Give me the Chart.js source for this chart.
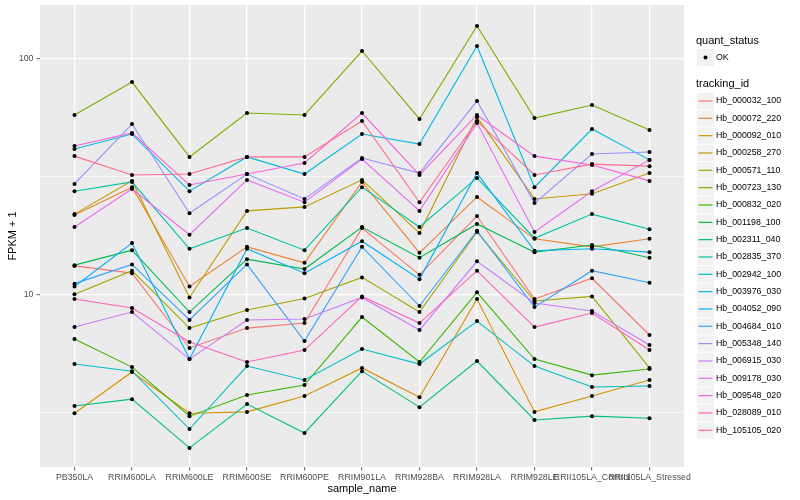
<!DOCTYPE html>
<html>
<head>
<meta charset="utf-8">
<title>FPKM by sample</title>
<script src="https://cdn.jsdelivr.net/npm/chart.js@4/dist/chart.umd.min.js"></script>
<style>
  html, body { margin: 0; padding: 0; background: #ffffff; }
  #wrap { width: 800px; height: 500px; }
</style>
</head>
<body>
<div id="wrap"><canvas id="fpkmChart" width="800" height="500"></canvas></div>
<script>
// Samples along the x axis
const samples = ['PB350LA', 'RRIM600LA', 'RRIM600LE', 'RRIM600SE', 'RRIM600PE', 'RRIM901LA',
    'RRIM928BA', 'RRIM928LA', 'RRIM928LE', 'RRII105LA_Control', 'RRII105LA_Stressed'];

// Tracking ids, in legend order
const trackingIds = ['Hb_000032_100', 'Hb_000072_220', 'Hb_000092_010', 'Hb_000258_270', 'Hb_000571_110',
    'Hb_000723_130', 'Hb_000832_020', 'Hb_001198_100', 'Hb_002311_040', 'Hb_002835_370',
    'Hb_002942_100', 'Hb_003976_030', 'Hb_004052_090', 'Hb_004684_010', 'Hb_005348_140',
    'Hb_006915_030', 'Hb_009178_030', 'Hb_009548_020', 'Hb_028089_010', 'Hb_105105_020'];

// ggplot default hue palette, 20 levels
const colors = ['#F8766D', '#EA8331', '#D89000', '#C09B00', '#A3A500', '#7CAE00', '#39B600', '#00BB4E',
    '#00BF7D', '#00C1A3', '#00BFC4', '#00BAE0', '#00B0F6', '#35A2FF', '#9590FF', '#C77CFF',
    '#E76BF3', '#FA62DB', '#FF62BC', '#FF6C91'];

// FPKM + 1, one value per sample
const hb000032 = [13.2, 12.3, 5.92, 7.19, 7.55, 19.1, 12.1, 21.5, 9.55, 11.7, 6.72];
const hb000072 = [21.7, 28.5, 10.8, 15.9, 13.6, 30.0, 15.0, 25.9, 17.2, 15.9, 17.2];
const hb000092 = [3.13, 4.68, 3.13, 3.17, 3.70, 4.87, 3.66, 9.55, 3.17, 3.70, 4.33];
const hb000258 = [21.9, 30.3, 9.7, 22.6, 23.5, 30.6, 18.2, 56.5, 25.4, 26.7, 32.7];
const hb000571 = [10.0, 12.6, 7.19, 8.58, 9.6, 11.8, 8.41, 18.4, 9.37, 9.8, 4.87];
const hb000723 = [57.7, 79.6, 38.3, 58.8, 57.7, 107.8, 55.5, 137.7, 56.0, 63.6, 49.8];
const hb000832 = [6.46, 4.91, 3.04, 3.74, 4.12, 8.01, 5.16, 10.2, 5.31, 4.54, 4.82];
const hb001198 = [13.3, 15.4, 8.41, 14.1, 12.8, 19.3, 14.3, 19.9, 15.1, 16.2, 14.3];
const hb002311 = [3.36, 3.59, 2.23, 3.42, 2.58, 4.72, 3.32, 5.21, 2.93, 3.04, 2.98];
const hb002835 = [27.4, 30.0, 15.6, 19.1, 15.4, 28.5, 19.3, 31.2, 17.3, 21.9, 18.9];
const hb002942 = [5.06, 4.72, 2.68, 4.96, 4.33, 5.86, 5.06, 7.70, 4.96, 4.04, 4.08];
const hb003976 = [41.4, 47.9, 27.4, 38.3, 32.4, 47.9, 43.4, 113.2, 28.5, 50.3, 37.2];
const hb004052 = [10.8, 16.5, 5.31, 15.6, 12.3, 16.8, 11.6, 32.7, 15.3, 15.6, 15.1];
const hb004684 = [11.1, 13.4, 7.78, 13.4, 6.33, 15.9, 8.92, 18.6, 8.83, 12.6, 11.2];
const hb005348 = [29.4, 52.8, 22.1, 32.4, 25.4, 37.9, 32.7, 66.1, 24.4, 39.4, 40.2];
const hb006915 = [7.26, 8.41, 5.31, 7.78, 7.86, 9.7, 7.06, 13.8, 9.19, 8.49, 6.09];
const hb009178 = [19.3, 28.0, 17.9, 30.6, 24.6, 37.5, 22.6, 53.3, 18.4, 27.4, 37.2];
const hb009548 = [42.6, 48.4, 29.1, 32.4, 36.1, 58.8, 32.1, 57.7, 38.6, 35.4, 30.3];
const hb028089 = [9.55, 8.75, 6.27, 5.16, 5.80, 9.8, 7.55, 12.6, 7.26, 8.33, 5.80];
const hb105105 = [38.6, 32.1, 32.4, 38.3, 38.3, 54.4, 24.6, 54.4, 32.1, 35.7, 35.0];

const fpkm = [hb000032, hb000072, hb000092, hb000258, hb000571, hb000723, hb000832, hb001198,
    hb002311, hb002835, hb002942, hb003976, hb004052, hb004684, hb005348, hb006915,
    hb009178, hb009548, hb028089, hb105105];

// y axis breaks (log10): minor at sqrt(10) steps
const yTickValues = [3.1623, 10, 31.623, 100];
const yTickLabels = ['', '10', '', '100'];

const FONT = '"Liberation Sans", Arial, Helvetica, sans-serif';
const isMajor = (c) => yTickLabels[c.index] !== '';

// grey panel behind the grid, like theme_grey
const panelBackground = {
    id: 'panelBackground',
    beforeDraw(chart) {
        const { ctx, chartArea: a } = chart;
        ctx.save();
        ctx.fillStyle = '#EBEBEB';
        ctx.fillRect(a.left, a.top, a.right - a.left, a.bottom - a.top);
        ctx.restore();
    }
};

// two legend blocks on the right
const ggLegend = {
    id: 'ggLegend',
    afterDraw(chart) {
        const ctx = chart.ctx;
        ctx.save();
        ctx.textAlign = 'left';
        ctx.textBaseline = 'middle';

        ctx.fillStyle = '#000000';
        ctx.font = '11px ' + FONT;
        ctx.fillText('quant_status', 696, 41);
        ctx.fillStyle = '#F2F2F2';
        ctx.fillRect(697, 49, 17, 17);
        ctx.fillStyle = '#000000';
        ctx.beginPath();
        ctx.arc(705.5, 57.5, 2, 0, Math.PI * 2);
        ctx.fill();
        ctx.font = '8.8px ' + FONT;
        ctx.fillText('OK', 716, 57.5);

        ctx.font = '11px ' + FONT;
        ctx.fillText('tracking_id', 696, 84);
        trackingIds.forEach((id, i) => {
            const cy = 101 + i * 17.33;
            ctx.fillStyle = '#F2F2F2';
            ctx.fillRect(697, cy - 8.2, 17, 16.4);
            ctx.strokeStyle = colors[i];
            ctx.lineWidth = 1.2;
            ctx.beginPath();
            ctx.moveTo(698.5, cy);
            ctx.lineTo(712.5, cy);
            ctx.stroke();
            ctx.fillStyle = '#000000';
            ctx.font = '8.8px ' + FONT;
            ctx.fillText(id, 716, cy);
        });
        ctx.restore();
    }
};

const lineSets = fpkm.map((vals, i) => ({
    label: trackingIds[i],
    data: vals.map((v, j) => ({ x: j, y: v })),
    borderColor: colors[i],
    borderWidth: 1.1,
    pointRadius: 0,
    fill: false,
    tension: 0,
    order: fpkm.length - i
}));

// black points drawn on top of every line
const pointData = [];
fpkm.forEach(vals => vals.forEach((v, j) => pointData.push({ x: j, y: v })));

// keep the panel exactly where ggplot put it
const noEdgePadding = (scale) => {
    scale.paddingTop = 0;
    scale.paddingBottom = 0;
    scale.paddingLeft = 0;
    scale.paddingRight = 0;
};

const ctx = document.getElementById('fpkmChart').getContext('2d');
const fpkmChart = new Chart(ctx, {
    type: 'line',
    data: {
        datasets: lineSets.concat([{
            label: 'OK',
            data: pointData,
            showLine: false,
            pointRadius: 2,
            pointBackgroundColor: '#000000',
            pointBorderWidth: 0,
            order: 0
        }])
    },
    options: {
        responsive: false,
        animation: false,
        devicePixelRatio: 1,
        layout: { padding: { left: 0, right: 116, top: 5, bottom: 0 } },
        plugins: {
            legend: { display: false },
            tooltip: { enabled: false }
        },
        scales: {
            x: {
                type: 'linear',
                min: -0.6,
                max: 10.6,
                afterBuildTicks: (scale) => { scale.ticks = samples.map((s, i) => ({ value: i })); },
                afterFit: (scale) => { scale.height = 33; noEdgePadding(scale); },
                ticks: {
                    autoSkip: false,
                    maxRotation: 0,
                    minRotation: 0,
                    padding: 2,
                    color: '#4D4D4D',
                    font: { family: FONT, size: 8.8 },
                    callback: (v) => samples[v]
                },
                grid: { color: '#FFFFFF', lineWidth: 1.3, tickLength: 3.5, tickColor: '#333333', tickWidth: 0.8 },
                border: { display: false },
                title: {
                    display: true,
                    text: 'sample_name',
                    color: '#000000',
                    font: { family: FONT, size: 11 },
                    padding: { top: 0, bottom: 4 }
                }
            },
            y: {
                type: 'logarithmic',
                min: 1.85,
                max: 169,
                afterBuildTicks: (scale) => { scale.ticks = yTickValues.map(v => ({ value: v })); },
                afterFit: (scale) => { scale.width = 40; noEdgePadding(scale); },
                ticks: {
                    autoSkip: false,
                    padding: 3,
                    color: '#4D4D4D',
                    font: { family: FONT, size: 8.8 },
                    callback: (v, i) => yTickLabels[i]
                },
                grid: {
                    color: '#FFFFFF',
                    lineWidth: (c) => isMajor(c) ? 1.3 : 0.65,
                    tickLength: 3.5,
                    tickWidth: 0.8,
                    tickColor: (c) => isMajor(c) ? '#333333' : 'rgba(0,0,0,0)'
                },
                border: { display: false },
                title: {
                    display: true,
                    text: 'FPKM + 1',
                    color: '#000000',
                    font: { family: FONT, size: 11 },
                    padding: { top: 6, bottom: 0 }
                }
            }
        }
    },
    plugins: [panelBackground, ggLegend]
});
</script>
</body>
</html>
